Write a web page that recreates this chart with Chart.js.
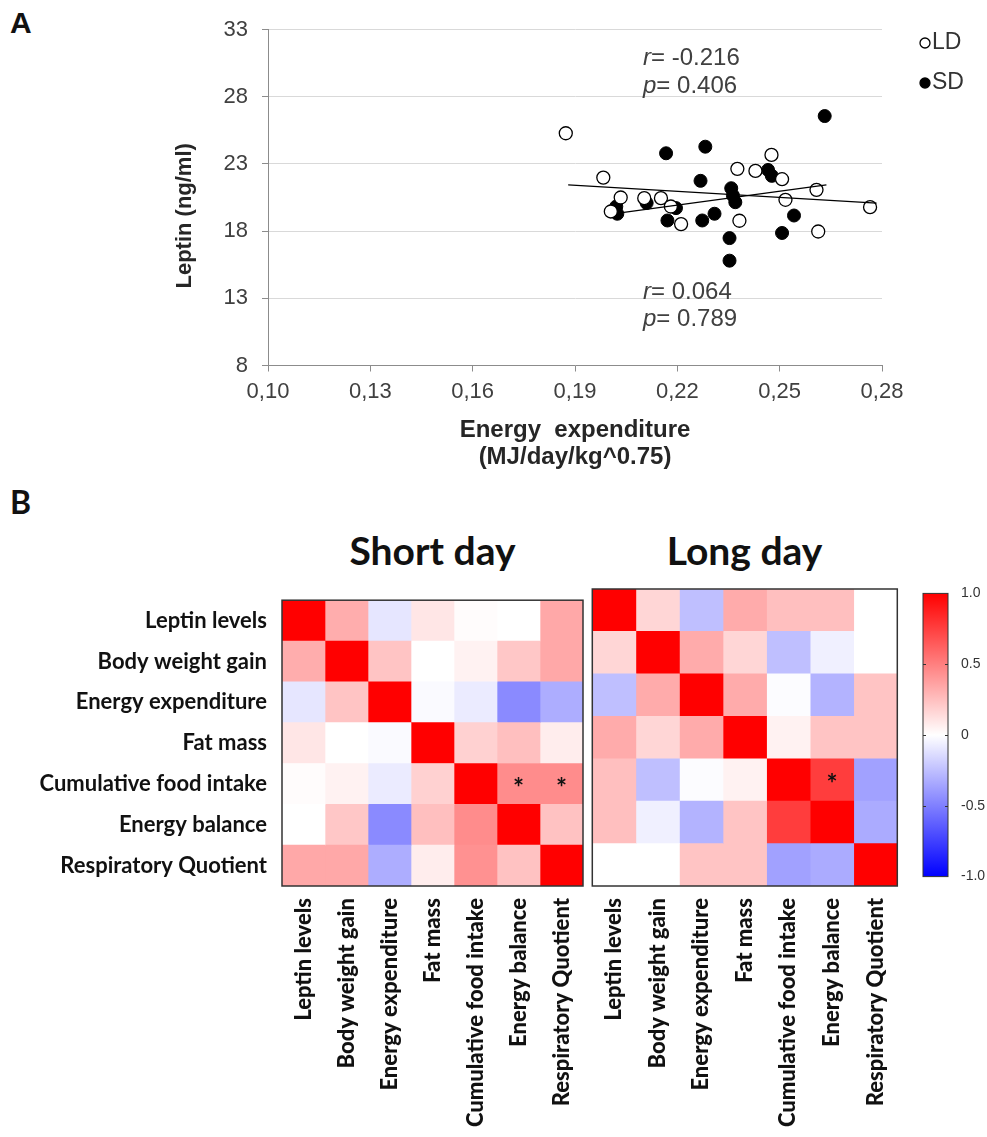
<!DOCTYPE html>
<html><head><meta charset="utf-8">
<script src="https://cdn.jsdelivr.net/npm/chart.js@4.4.1/dist/chart.umd.min.js"></script>
<style>
html,body{margin:0;padding:0;background:#fff;}
#wrap{position:relative;width:987px;height:1137px;overflow:hidden;background:#fff;}
canvas{position:absolute;}
.lbl{position:absolute;color:#111;white-space:nowrap;}
</style></head><body>
<div id="wrap">
<div class="lbl" style="left:10px;top:6px;font:bold 30px 'Liberation Sans',Arial,sans-serif;">A</div>
<div class="lbl" style="left:10px;top:482px;font:bold 32px Lato,sans-serif;">B</div>
<div class="lbl" style="left:282px;width:301px;top:527px;text-align:center;font:bold 39px Lato,sans-serif;">Short day</div>
<div class="lbl" style="left:592px;width:305px;top:527px;text-align:center;font:bold 39px Lato,sans-serif;">Long day</div>
<canvas id="sc" width="987" height="475" style="left:0;top:0"></canvas>
<canvas id="h1" width="600" height="557" style="left:0;top:580px"></canvas>
<canvas id="h2" width="330" height="557" style="left:588px;top:580px"></canvas>
<canvas id="cb" width="82" height="310" style="left:905px;top:580px"></canvas>
</div>
<script>
// ---------- Panel A data ----------
const xTicks = [0.10, 0.13, 0.16, 0.19, 0.22, 0.25, 0.28];
const yTicks = [8, 13, 18, 23, 28, 33];
const ldX = [0.1873, 0.1983, 0.2034, 0.2005, 0.2103, 0.2152, 0.2181, 0.2211, 0.2376, 0.2382, 0.2429, 0.2476, 0.2507, 0.2517, 0.2608, 0.2613, 0.2765];
const ldY = [25.28, 21.98, 20.50, 19.46, 20.45, 20.45, 19.83, 18.52, 22.63, 18.77, 22.48, 23.67, 21.86, 20.33, 21.07, 17.97, 19.78];
const sdX = [0.2632, 0.2167, 0.2282, 0.2268, 0.2466, 0.2477, 0.2358, 0.2363, 0.2370, 0.2021, 0.2024, 0.2110, 0.2196, 0.2171, 0.2273, 0.2309, 0.2353, 0.2353, 0.2507, 0.2542];
const sdY = [26.56, 23.79, 24.28, 21.74, 22.55, 22.11, 21.19, 20.65, 20.15, 19.83, 19.29, 20.09, 19.71, 18.79, 18.79, 19.29, 17.48, 15.80, 17.86, 19.16];
const ldFitX = [0.1880, 0.2784];
const ldFitY = [21.44, 20.08];
const sdFitX = [0.2027, 0.2637];
const sdFitY = [19.34, 21.44];
const statSym = ['r', 'p', 'r', 'p'];
const statTxt = ['= -0.216', '= 0.406', '= 0.064', '= 0.789'];

// ---------- Panel B data ----------
const rowLabels = ['Leptin levels', 'Body weight gain', 'Energy expenditure', 'Fat mass', 'Cumulative food intake', 'Energy balance', 'Respiratory Quotient'];
const colLabels = rowLabels.slice();
const sdCorr = [
  [1.00, 0.32, -0.10, 0.10, 0.01, 0.00, 0.34],
  [0.32, 1.00, 0.23, 0.00, 0.05, 0.22, 0.34],
  [-0.10, 0.23, 1.00, -0.02, -0.08, -0.46, -0.32],
  [0.10, 0.00, -0.02, 1.00, 0.18, 0.25, 0.07],
  [0.01, 0.05, -0.08, 0.18, 1.00, 0.45, 0.45],
  [0.00, 0.22, -0.46, 0.25, 0.45, 1.00, 0.24],
  [0.34, 0.34, -0.32, 0.07, 0.43, 0.24, 1.00]
];
const ldCorr = [
  [1.00, 0.16, -0.25, 0.33, 0.25, 0.25, 0.00],
  [0.16, 1.00, 0.33, 0.16, -0.25, -0.06, 0.00],
  [-0.25, 0.33, 1.00, 0.33, -0.01, -0.30, 0.23],
  [0.33, 0.16, 0.33, 1.00, 0.05, 0.23, 0.23],
  [0.25, -0.25, -0.01, 0.05, 1.00, 0.76, -0.37],
  [0.25, -0.06, -0.30, 0.23, 0.76, 1.00, -0.33],
  [0.00, 0.00, 0.23, 0.23, -0.37, -0.33, 1.00]
];
const sdSigRows = [4, 4];
const sdSigCols = [5, 6];
const ldSigRows = [4];
const ldSigCols = [5];
const cbTicks = [-1, -0.5, 0, 0.5, 1];
const cbTickLabels = ['-1.0', '-0.5', '0', '0.5', '1.0'];

// ---------- helpers ----------
function corrColor(v) {
  if (v >= 0) { const c = Math.round(255 * (1 - v)); return `rgb(255,${c},${c})`; }
  const c = Math.round(255 * (1 + v)); return `rgb(${c},${c},255)`;
}
const ARIAL = "'Liberation Sans', Arial, sans-serif";
const CAL = "Lato, sans-serif";

// ---------- Panel A ----------
const annotPlugin = {
  id: 'annot',
  afterDraw(chart) {
    const ctx = chart.ctx;
    ctx.save();
    ctx.textBaseline = 'middle';
    ctx.fillStyle = '#404040';
    const pos = [[643, 58], [643, 86], [643, 292], [643, 319]];
    statSym.forEach((s, i) => {
      ctx.font = 'italic 24px ' + ARIAL;
      ctx.fillText(s, pos[i][0], pos[i][1]);
      const w = ctx.measureText(s).width;
      ctx.font = '24px ' + ARIAL;
      ctx.fillText(statTxt[i], pos[i][0] + w, pos[i][1]);
    });
    // legend
    const legY = [43, 83];
    [0, 1].forEach((di, k) => {
      const ds = chart.data.datasets[di];
      ctx.beginPath();
      ctx.arc(925, legY[k], 5, 0, Math.PI * 2);
      ctx.fillStyle = ds.pointBackgroundColor;
      ctx.fill();
      ctx.lineWidth = 1.3;
      ctx.strokeStyle = ds.pointBorderColor;
      ctx.stroke();
      ctx.fillStyle = '#333';
      ctx.font = '23px ' + ARIAL;
      ctx.textAlign = 'left';
      ctx.fillText(ds.label, 932, legY[k]);
    });
    ctx.restore();
  }
};

new Chart(document.getElementById('sc'), {
  type: 'scatter',
  data: {
    datasets: [
      { label: 'LD', data: ldX.map((x, i) => ({ x, y: ldY[i] })), pointRadius: 6.5, pointBackgroundColor: '#ffffff', pointBorderColor: '#000000', pointBorderWidth: 1.3, order: 2 },
      { label: 'SD', data: sdX.map((x, i) => ({ x, y: sdY[i] })), pointRadius: 6.5, pointBackgroundColor: '#000000', pointBorderColor: '#000000', pointBorderWidth: 1, order: 2 },
      { type: 'line', label: 'LD fit', data: ldFitX.map((x, i) => ({ x, y: ldFitY[i] })), borderColor: '#000', borderWidth: 1.2, pointRadius: 0, fill: false, order: 1 },
      { type: 'line', label: 'SD fit', data: sdFitX.map((x, i) => ({ x, y: sdFitY[i] })), borderColor: '#000', borderWidth: 1.2, pointRadius: 0, fill: false, order: 1 }
    ]
  },
  options: {
    responsive: false, animation: false, devicePixelRatio: 1,
    layout: { padding: { left: 172, right: 105, top: 29.5, bottom: 4 } },
    plugins: { legend: { display: false }, tooltip: { enabled: false } },
    scales: {
      x: {
        type: 'linear', min: 0.10, max: 0.28,
        afterBuildTicks: s => { s.ticks = xTicks.map(v => ({ value: v })); },
        afterFit: s => { s.height = 475 - 4 - 365.5; },
        ticks: { callback: v => Number(v).toFixed(2).replace('.', ','), font: { family: ARIAL, size: 22 }, color: '#404040', padding: 7, maxRotation: 0, autoSkip: false },
        grid: { drawOnChartArea: false, tickLength: 6, tickColor: '#8c8c8c' },
        border: { color: '#8c8c8c' },
        title: { display: true, text: ['Energy  expenditure', '(MJ/day/kg^0.75)'], font: { family: ARIAL, size: 24, weight: 'bold', lineHeight: 1.12 }, color: '#262626', padding: { top: 2, bottom: 0 } }
      },
      y: {
        type: 'linear', min: 8, max: 33,
        afterBuildTicks: s => { s.ticks = yTicks.map(v => ({ value: v })); },
        afterFit: s => { s.width = 268 - 172; },
        ticks: { font: { family: ARIAL, size: 22 }, color: '#404040', padding: 14 },
        grid: { color: '#d9d9d9', tickColor: '#8c8c8c', tickLength: 6 },
        border: { color: '#8c8c8c' },
        title: { display: true, text: 'Leptin (ng/ml)      ', font: { family: ARIAL, size: 22, weight: 'bold' }, color: '#262626', padding: { top: 0, bottom: 0 } }
      }
    }
  },
  plugins: [annotPlugin]
});

// ---------- Panel B heatmaps ----------
function framePlugin(color, width) {
  return {
    id: 'frame',
    afterDatasetsDraw(chart) {
      const { left, top, width: w, height: h } = chart.chartArea;
      const ctx = chart.ctx;
      ctx.save();
      ctx.strokeStyle = color; ctx.lineWidth = width;
      ctx.strokeRect(left, top, w, h);
      ctx.restore();
    }
  };
}
function starPlugin(rows, cols) {
  return {
    id: 'stars',
    afterDatasetsDraw(chart) {
      const ctx = chart.ctx;
      const xs = chart.scales.x, ys = chart.scales.y;
      ctx.save();
      ctx.fillStyle = '#111';
      ctx.font = 'bold 26px ' + CAL;
      ctx.textAlign = 'center';
      ctx.textBaseline = 'middle';
      rows.forEach((r, k) => {
        const cx = xs.getPixelForValue(cols[k] + 0.5);
        const cy = ys.getPixelForValue(r);
        ctx.fillText('*', cx, cy + 5);
      });
      ctx.restore();
    }
  };
}
function makeHeat(id, matrix, sigR, sigC, showY, pad, canvasH, bottomY) {
  const datasets = colLabels.map((c, j) => ({
    label: c,
    data: rowLabels.map(() => 1),
    backgroundColor: rowLabels.map((_, i) => corrColor(matrix[i][j])),
    borderWidth: 0,
    barPercentage: 1,
    categoryPercentage: 1
  }));
  new Chart(document.getElementById(id), {
    type: 'bar',
    data: { labels: rowLabels, datasets },
    options: {
      indexAxis: 'y',
      responsive: false, animation: false, devicePixelRatio: 1,
      layout: { padding: pad },
      plugins: { legend: { display: false }, tooltip: { enabled: false } },
      scales: {
        x: { type: 'linear', stacked: true, min: 0, max: 7, display: false },
        x2: {
          type: 'category', labels: colLabels, offset: true, position: 'bottom',
          grid: { display: false }, border: { display: false },
          ticks: { minRotation: 90, maxRotation: 90, autoSkip: false, font: { family: CAL, size: 22, weight: 900 }, color: '#111', padding: 4 },
          afterFit: s => { s.height = canvasH - bottomY - pad.bottom; }
        },
        y: {
          type: 'category', stacked: true, display: showY,
          grid: { display: false }, border: { display: false },
          ticks: { font: { family: CAL, size: 22, weight: 'bold' }, color: '#111', padding: 7 },
          afterFit: s => { if (showY) s.width = 282 - pad.left; }
        }
      }
    },
    plugins: [framePlugin('#333', 1.5), starPlugin(sigR, sigC)]
  });
}
makeHeat('h1', sdCorr, sdSigRows, sdSigCols, true, { left: 0, right: 17, top: 9, bottom: 0 }, 557, 306);
makeHeat('h2', ldCorr, ldSigRows, ldSigCols, false, { left: 4.3, right: 20.7, top: 9, bottom: 0 }, 557, 306);

// ---------- colour bar ----------
const cbMarks = {
  id: 'cbMarks',
  afterDatasetsDraw(chart) {
    const ctx = chart.ctx, ys = chart.scales.y, ca = chart.chartArea;
    ctx.save();
    ctx.strokeStyle = '#333'; ctx.lineWidth = 1;
    [-0.5, 0, 0.5].forEach(v => {
      const y = Math.round(ys.getPixelForValue(v)) + 0.5;
      ctx.beginPath(); ctx.moveTo(ca.left, y); ctx.lineTo(ca.left + 3, y); ctx.stroke();
      ctx.beginPath(); ctx.moveTo(ca.right - 3, y); ctx.lineTo(ca.right, y); ctx.stroke();
    });
    ctx.restore();
  }
};
new Chart(document.getElementById('cb'), {
  type: 'bar',
  data: {
    labels: [''],
    datasets: [{
      data: [[-1, 1]],
      backgroundColor: (c) => {
        const ca = c.chart.chartArea;
        if (!ca) return '#ffffff';
        const g = c.chart.ctx.createLinearGradient(0, ca.top, 0, ca.bottom);
        g.addColorStop(0, 'rgb(255,0,0)');
        g.addColorStop(0.5, 'rgb(255,255,255)');
        g.addColorStop(1, 'rgb(0,0,255)');
        return g;
      },
      borderWidth: 0, barPercentage: 1, categoryPercentage: 1
    }]
  },
  options: {
    responsive: false, animation: false, devicePixelRatio: 1,
    layout: { padding: { left: 18, right: 0, top: 8, bottom: 5 } },
    plugins: { legend: { display: false }, tooltip: { enabled: false } },
    scales: {
      x: { display: false },
      y: {
        position: 'right', min: -1, max: 1,
        afterBuildTicks: s => { s.ticks = cbTicks.map(v => ({ value: v })); },
        afterFit: s => { s.width = 39; },
        ticks: { callback: (v) => cbTickLabels[cbTicks.indexOf(v)], font: { family: ARIAL, size: 14 }, color: '#333', padding: 5 },
        grid: { display: false }, border: { display: false }
      }
    }
  },
  plugins: [framePlugin('#333', 1), cbMarks]
});
</script>
</body></html>
